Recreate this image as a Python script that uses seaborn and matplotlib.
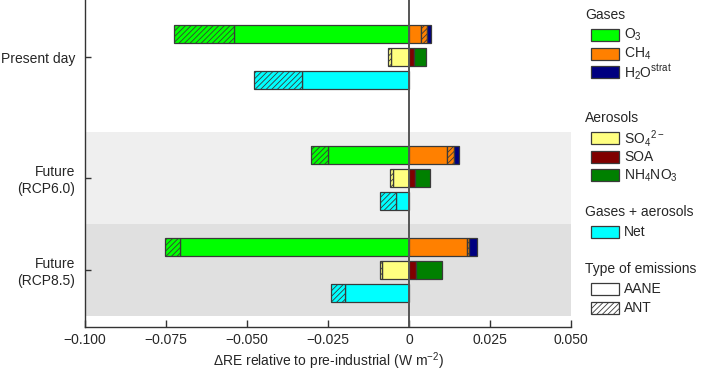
import matplotlib
matplotlib.use("Agg")
import matplotlib.pyplot as plt
from matplotlib.patches import Rectangle
import seaborn as sns
import numpy as np

# Scenario groups and their vertical positions
groups = ["Present day", "Future\n(RCP6.0)", "Future\n(RCP8.5)"]
group_pos = np.array([2.315, 1.0, 0.0])

# Radiative effect components (W m-2), AANE = solid, ANT = hatched
o3_aane = np.array([-0.0539, -0.0249, -0.0706])
o3_ant = np.array([-0.0187, -0.0053, -0.0046])
ch4_aane = np.array([0.0037, 0.0118, 0.0180])
ch4_ant = np.array([0.0020, 0.0020, 0.0005])
h2o_strat = np.array([0.0011, 0.0017, 0.0026])
so4_aane = np.array([-0.0057, -0.0050, -0.0082])
so4_ant = np.array([-0.0008, -0.0008, -0.0009])
soa = np.array([0.0014, 0.0018, 0.0021])
nh4no3 = np.array([0.0037, 0.0046, 0.0080])
net_aane = np.array([-0.0331, -0.0041, -0.0198])
net_ant = np.array([-0.0146, -0.0047, -0.0044])

xticks = [-0.1, -0.075, -0.05, -0.025, 0, 0.025, 0.05]
xticklabels = ["\u22120.100", "\u22120.075", "\u22120.050", "\u22120.025", "0", "0.025", "0.050"]

colors = {
    "O3": "#00ff00",
    "CH4": "#ff8000",
    "H2O": "#000080",
    "SO4": "#ffff80",
    "SOA": "#800000",
    "NH4NO3": "#008000",
    "Net": "#00ffff",
}

sns.set_style("ticks")
plt.rcParams["font.family"] = ["Liberation Sans", "DejaVu Sans"]
plt.rcParams["mathtext.fontset"] = "custom"
plt.rcParams["mathtext.rm"] = "Liberation Sans"
plt.rcParams["mathtext.it"] = "Liberation Sans:italic"
plt.rcParams["mathtext.bf"] = "Liberation Sans:bold"
plt.rcParams["mathtext.default"] = "regular"
plt.rcParams["hatch.linewidth"] = 0.6

W, H = 702, 371
fig = plt.figure(figsize=(W / 100, H / 100), dpi=100)
ax = fig.add_axes([85 / W, 44 / H, 486 / W, 327 / H])

edge = "#3a3a3a"
hatch = "//////"
bh = 0.2
common = dict(height=bh, edgecolor=edge, linewidth=0.9, zorder=2)

# background bands for the future scenarios
ax.axhspan(0.5, 1.5, color="#efefef", zorder=0, lw=0)
ax.axhspan(-0.5, 0.5, color="#e0e0e0", zorder=0, lw=0)

# gases row
y_gas = group_pos + 0.25
ax.barh(y_gas, o3_aane, color=colors["O3"], **common)
ax.barh(y_gas, o3_ant, left=o3_aane, color=colors["O3"], hatch=hatch, **common)
ax.barh(y_gas, ch4_aane, color=colors["CH4"], **common)
ax.barh(y_gas, ch4_ant, left=ch4_aane, color=colors["CH4"], hatch=hatch, **common)
ax.barh(y_gas, h2o_strat, left=ch4_aane + ch4_ant, color=colors["H2O"], **common)

# aerosols row
y_aer = group_pos
ax.barh(y_aer, so4_aane, color=colors["SO4"], **common)
ax.barh(y_aer, so4_ant, left=so4_aane, color=colors["SO4"], hatch=hatch, **common)
ax.barh(y_aer, soa, color=colors["SOA"], **common)
ax.barh(y_aer, nh4no3, left=soa, color=colors["NH4NO3"], **common)

# net row
y_net = group_pos - 0.25
ax.barh(y_net, net_aane, color=colors["Net"], **common)
ax.barh(y_net, net_ant, left=net_aane, color=colors["Net"], hatch=hatch, **common)

ax.axvline(0, color="#555555", lw=1.4, zorder=3)

ax.set_xlim(-0.1, 0.05)
ax.set_ylim(-0.62, 2.935)
ax.set_xticks(xticks)
ax.set_xticklabels(xticklabels)
ax.set_yticks(group_pos)
ax.set_yticklabels(groups, ha="right", multialignment="right")
ax.tick_params(axis="x", direction="in", length=5, width=1, labelsize=10, pad=4, color="#333333")
ax.tick_params(axis="y", direction="in", length=4, width=1, labelsize=10, pad=7, color="#333333")
ax.set_xlabel("\u0394RE relative to pre-industrial (W m$^{\u22122}$)", fontsize=10, labelpad=3)
sns.despine(ax=ax, top=True, right=True)
for s in ["left", "bottom"]:
    ax.spines[s].set_color("#333333")
    ax.spines[s].set_linewidth(1.0)

# legend drawn in figure pixel space
sections = [
    ("Gases", 15, [("O$_3$", colors["O3"], None), ("CH$_4$", colors["CH4"], None),
                   ("H$_2$O$^{strat}$", colors["H2O"], None)]),
    ("Aerosols", 118, [("SO$_4$$^{2\u2212}$", colors["SO4"], None), ("SOA", colors["SOA"], None),
                       ("NH$_4$NO$_3$", colors["NH4NO3"], None)]),
    ("Gases + aerosols", 212, [("Net", colors["Net"], None)]),
    ("Type of emissions", 269, [("AANE", "white", None), ("ANT", "white", hatch)]),
]
for title, ty, entries in sections:
    fig.text(585 / W, 1 - ty / H, title, fontsize=10, ha="left", va="center")
    for k, (lab, fc, htch) in enumerate(entries):
        cy = ty + 20 + 18.7 * k
        fig.add_artist(Rectangle((591 / W, 1 - (cy + 6) / H), 28 / W, 12 / H,
                                 transform=fig.transFigure, facecolor=fc,
                                 edgecolor=edge, linewidth=0.9, hatch=htch))
        fig.text(624 / W, 1 - cy / H, lab, fontsize=10, ha="left", va="center")

fig.savefig("out.png", dpi=100)
